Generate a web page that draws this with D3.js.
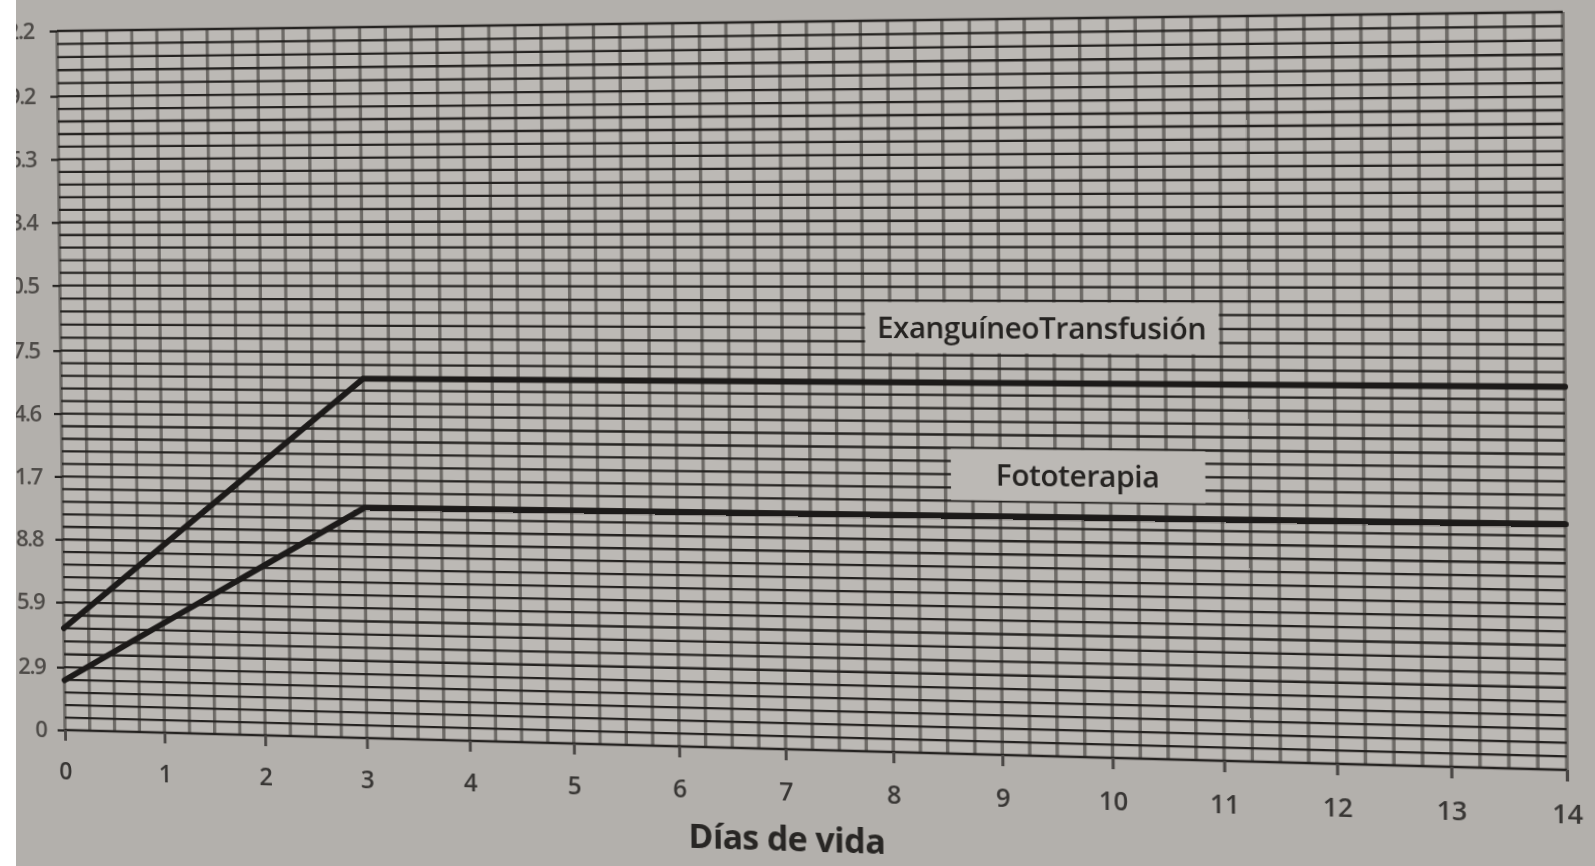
<!DOCTYPE html>
<html>
<head>
<meta charset="utf-8">
<script src="https://cdn.jsdelivr.net/npm/d3@7"></script>
<style>
html, body { margin:0; padding:0; width:1595px; height:866px; overflow:hidden; background:#b3b0ac; }
#chart { position:absolute; left:0; top:0; transform-origin:0 0; overflow:visible; }
#edge { position:absolute; left:0; top:0; width:16px; height:866px; background:#fff; }
</style>
</head>
<body>
<svg id="chart" width="1595" height="866"></svg>
<div id="edge"></div>
<script>
// days on the x axis
var days = [0,1,2,3,4,5,6,7,8,9,10,11,12,13,14];
// y tick labels (mg/dL)
var yTickLabels = ["0","2.9","5.9","8.8","11.7","14.6","17.5","20.5","23.4","26.3","29.2","32.2"];

// the two limit curves
var exchangeDays = [0, 3, 14];
var exchangeValues = [4.7, 16.3, 16.3];
var photoDays = [0, 3, 14];
var photoValues = [2.3, 10.45, 10.45];

var lineNames = ["ExanguíneoTransfusión", "Fototerapia"];
var xTitle = "Días de vida";

var margins = {left:60, top:20};
var width = 1500, height = 720;

// photo is taken at an angle: corners of the plot in the page (TL, TR, BR, BL)
var quad = [[57,31],[1563,12],[1567,770],[65,730]];

function squareToQuad(q){
	var x0=q[0][0], y0=q[0][1], x1=q[1][0], y1=q[1][1];
	var x2=q[2][0], y2=q[2][1], x3=q[3][0], y3=q[3][1];
	var dx1=x1-x2, dx2=x3-x2, dx3=x0-x1+x2-x3;
	var dy1=y1-y2, dy2=y3-y2, dy3=y0-y1+y2-y3;
	var den = dx1*dy2 - dx2*dy1;
	var g = (dx3*dy2 - dx2*dy3)/den;
	var h = (dx1*dy3 - dx3*dy1)/den;
	return {a:x1-x0+g*x1, b:x3-x0+h*x3, c:x0, d:y1-y0+g*y1, e:y3-y0+h*y3, f:y0, g:g, h:h};
}

(function(){
	var p = squareToQuad(quad);
	var l = margins.left, t = margins.top;
	var A = p.a/width, B = p.b/height, C = p.c - p.a*l/width - p.b*t/height;
	var D = p.d/width, E = p.e/height, F = p.f - p.d*l/width - p.e*t/height;
	var G = p.g/width, H = p.h/height, I = 1 - p.g*l/width - p.h*t/height;
	var m = [A, D, 0, G, B, E, 0, H, 0, 0, 1, 0, C, F, 0, I];
	document.getElementById('chart').style.transform = 'matrix3d(' + m.join(',') + ')';
})();

var svg = d3.select("#chart");
var g = svg.append('g')
	.attr('transform', 'translate(' + margins.left + ',' + margins.top + ')');

var x = d3.scaleLinear().domain([0, 14]).range([0, width]);
var yTicks = yTickLabels.map(function(s){ return +s; });
var y = d3.scaleLinear().domain([0, yTicks[yTicks.length-1]]).range([height, 0]);

g.append('rect')
	.attr('width', width).attr('height', height)
	.attr('fill', '#bcb9b5');

// vertical grid, every 6 hours
var vLines = d3.range(0, 14.001, 0.25);
g.append('g').selectAll('line')
	.data(vLines)
	.enter().append('line')
		.attr('x1', function(d){ return x(d); })
		.attr('x2', function(d){ return x(d); })
		.attr('y1', 0)
		.attr('y2', height)
		.attr('stroke', '#5a5754')
		.attr('stroke-opacity', 0.8)
		.attr('stroke-width', 3.4);

// horizontal grid, 5 lines per labelled step
var hLines = [];
for( var i=0; i<yTicks.length-1; i++ ){
	for( var k=0; k<5; k++ ){
		hLines.push(yTicks[i] + (yTicks[i+1]-yTicks[i])*k/5);
	}
}
hLines.push(yTicks[yTicks.length-1]);

g.append('g').selectAll('line')
	.data(hLines)
	.enter().append('line')
		.attr('x1', 0)
		.attr('x2', width)
		.attr('y1', function(d){ return y(d); })
		.attr('y2', function(d){ return y(d); })
		.attr('stroke', '#252321')
		.attr('stroke-width', 2.3);

function customYAxis(sel){
	var yaxis = d3.axisLeft(y)
		.tickValues(yTicks)
		.tickFormat(function(d,i){ return yTickLabels[i]; })
		.tickSizeInner(8)
		.tickSizeOuter(0)
		.tickPadding(12);
	sel.call(yaxis);
	sel.select('path').remove();
	sel.selectAll('.tick line')
		.attr('stroke', '#252321')
		.attr('stroke-width', 2.3);
	// the print drifts a little left towards the top
	sel.selectAll('text')
		.attr('x', function(d,i){ return -(20 + i*0.45); })
		.attr('font-family', '"Open Sans", sans-serif')
		.attr('font-weight', 600)
		.attr('font-size', 24)
		.attr('letter-spacing', -1.5)
		.attr('fill', '#4e4b48');
}

function customXAxis(sel){
	var xaxis = d3.axisBottom(x)
		.tickValues(days)
		.tickFormat(d3.format('d'))
		.tickSizeInner(11)
		.tickSizeOuter(0)
		.tickPadding(22);
	sel.call(xaxis);
	sel.select('path').remove();
	sel.selectAll('.tick line')
		.attr('stroke', '#4a4745')
		.attr('stroke-width', 3);
	sel.selectAll('text')
		.attr('font-family', '"Open Sans", sans-serif')
		.attr('font-weight', 600)
		.attr('font-size', 25)
		.attr('fill', '#383634');
}

g.append('g').attr('class', 'axis').call(customYAxis);
g.append('g').attr('class', 'axis')
	.attr('transform', 'translate(0,' + height + ')')
	.call(customXAxis);

// curve labels sit on small blank boxes
var labelBoxes = [
	{ d0:7.77, d1:10.98, v0:17.6, v1:19.83 },
	{ d0:8.55, d1:10.85, v0:11.15, v1:13.4 }
];
labelBoxes.forEach(function(b, idx){
	g.append('rect')
		.attr('x', x(b.d0)).attr('y', y(b.v1))
		.attr('width', x(b.d1)-x(b.d0)).attr('height', y(b.v0)-y(b.v1))
		.attr('fill', '#bcb9b5');
	g.append('text')
		.attr('x', x((b.d0+b.d1)/2))
		.attr('y', y((b.v0+b.v1)/2))
		.attr('dy', '0.36em')
		.attr('text-anchor', 'middle')
		.attr('font-family', '"Open Sans", sans-serif')
		.attr('font-weight', 600)
		.attr('font-size', 29)
		.attr('letter-spacing', -0.4)
		.attr('fill', '#252321')
		.text(lineNames[idx]);
});

var line = d3.line()
	.x(function(d){ return x(d[0]); })
	.y(function(d){ return y(d[1]); });

[[exchangeDays, exchangeValues], [photoDays, photoValues]].forEach(function(s){
	var pts = s[0].map(function(d,i){ return [d, s[1][i]]; });
	g.append('path')
		.attr('d', line(pts))
		.attr('fill', 'none')
		.attr('stroke', '#1c1a19')
		.attr('stroke-width', 6)
		.attr('stroke-linecap', 'round')
		.attr('stroke-linejoin', 'miter');
});

g.append('text')
	.attr('x', x(7))
	.attr('y', height + 101)
	.attr('text-anchor', 'middle')
	.attr('font-family', '"Open Sans", sans-serif')
	.attr('font-weight', 700)
	.attr('font-size', 34)
	.attr('letter-spacing', -0.6)
	.attr('fill', '#282624')
	.text(xTitle);
</script>
</body>
</html>
